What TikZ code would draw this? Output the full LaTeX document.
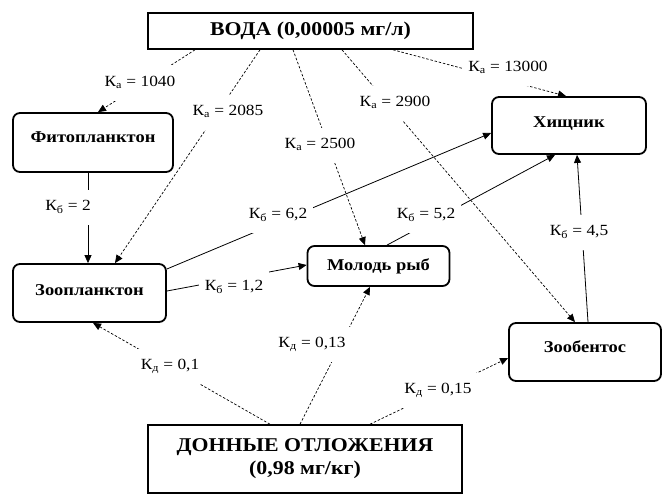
\documentclass[tikz,border=0pt]{standalone}
\usepackage{fontspec}
\setmainfont[FakeStretch=1.12]{Liberation Serif}
\usetikzlibrary{arrows.meta}
\newcommand{\fs}[1]{\fontsize{#1}{#1}\selectfont}
\begin{document}
\begin{tikzpicture}[x=1pt,y=-1pt,
  bigbox/.style={draw, line width=1.6pt, inner sep=0pt, font=\fontsize{19.5}{23}\selectfont\bfseries, align=center},
  orgbox/.style={draw, line width=1.8pt, rounded corners=7pt, inner sep=0pt, font=\fs{16.5}\bfseries},
  coef/.style={fill=white, inner xsep=6pt, inner ysep=10pt, text height=11pt, text depth=4pt, font=\fs{15.5}},
  solidarr/.style={line width=0.8pt, -{Triangle[length=8pt,width=7pt]}},
  dasharr/.style={line width=0.7pt, dash pattern=on 2.5pt off 1.8pt, -{Triangle[length=8pt,width=7pt]}}
]
\useasboundingbox (0,0) rectangle (664,495);
\fill[white] (0,0) rectangle (664,495);

\node[bigbox, minimum width=325pt, minimum height=36pt] (voda) at (310.5,31) {ВОДА (0,00005 мг/л)};
\node[bigbox, minimum width=314pt, minimum height=68pt] (don) at (305,459) {ДОННЫЕ ОТЛОЖЕНИЯ\\(0,98 мг/кг)};

\node[orgbox, minimum width=160pt, minimum height=59pt, text depth=11pt] (fito) at (93,142.5) {Фитопланктон};
\node[orgbox, minimum width=154pt, minimum height=57pt, text depth=7pt] (hish) at (569,125.5) {Хищник};
\node[orgbox, minimum width=153pt, minimum height=58pt, text depth=6pt] (zoo) at (89.5,293) {Зоопланктон};
\node[orgbox, minimum width=142pt, minimum height=40pt] (mol) at (378.5,266) {Молодь рыб};
\node[orgbox, minimum width=152pt, minimum height=58pt, text depth=10pt] (zoob) at (585,352) {Зообентос};

% water
\draw[dasharr] ([xshift=-115.5pt]voda.south) -- ([xshift=5pt]fito.north);
\draw[dasharr] ([xshift=-50.5pt]voda.south) -- ([xshift=25.5pt]zoo.north);
\draw[dasharr] ([xshift=-17.5pt]voda.south) -- ([xshift=-13.5pt]mol.north);
\draw[dasharr] ([xshift=31.5pt]voda.south) -- ([xshift=-10pt]zoob.north);
\draw[dasharr] ([xshift=82.5pt]voda.south) -- ([xshift=-3pt]hish.north);
% food
\draw[solidarr] ([xshift=-5pt]fito.south) -- ([xshift=-1.5pt]zoo.north);
\draw[solidarr] ([yshift=24pt]zoo.east) -- ([yshift=-7.5pt]hish.west);
\draw[solidarr] ([yshift=2pt]zoo.east) -- ([yshift=1pt]mol.west);
\draw[solidarr] ([xshift=8.5pt]mol.north) -- ([xshift=-14pt]hish.south);
\draw[solidarr] ([xshift=3pt]zoob.north) -- ([xshift=8pt]hish.south);
% sediment
\draw[dasharr] ([xshift=-35pt]don.north) -- ([xshift=3.5pt]zoo.south);
\draw[dasharr] ([xshift=-5pt]don.north) -- ([xshift=-8.5pt]mol.south);
\draw[dasharr] ([xshift=65pt]don.north) -- ([yshift=-6pt]zoob.west);

% coefficients
\node[coef] (k1) at (140,83) {К\textsubscript{а} = 1040};
\node[coef] (k2) at (228,112) {К\textsubscript{а} = 2085};
\node[coef] (k3) at (320,145) {К\textsubscript{а} = 2500};
\node[coef] (k4) at (395,103) {К\textsubscript{а} = 2900};
\node[coef] (k5) at (508,68) {К\textsubscript{а} = 13000};
\node[coef] (k6) at (68,207) {К\textsubscript{б} = 2};
\node[coef] (k7) at (278,215) {К\textsubscript{б} = 6,2};
\node[coef] (k8) at (234,287) {К\textsubscript{б} = 1,2};
\node[coef] (k9) at (426,215) {К\textsubscript{б} = 5,2};
\node[coef] (k10) at (579,232) {К\textsubscript{б} = 4,5};
\node[coef] (k11) at (170,366) {К\textsubscript{д} = 0,1};
\node[coef] (k12) at (312,344) {К\textsubscript{д} = 0,13};
\node[coef] (k13) at (438,390) {К\textsubscript{д} = 0,15};
\end{tikzpicture}
\end{document}
